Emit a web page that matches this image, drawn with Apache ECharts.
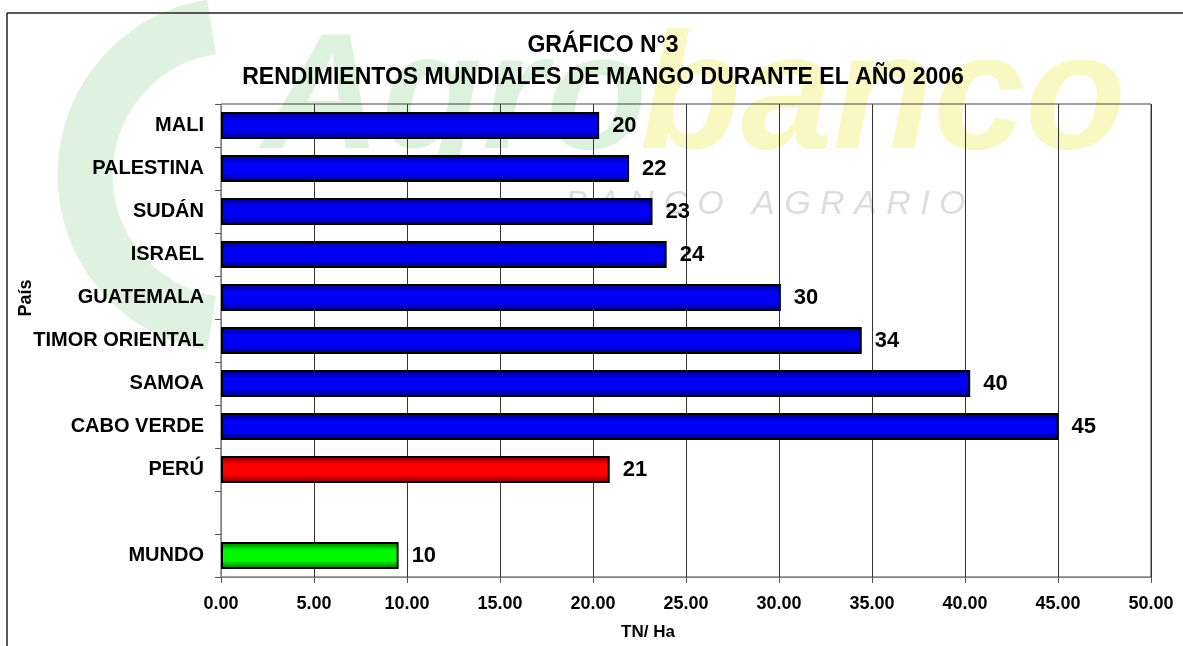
<!DOCTYPE html>
<html><head><meta charset="utf-8">
<script src="https://cdn.jsdelivr.net/npm/echarts@6/dist/echarts.min.js"></script>
<style>html,body{margin:0;padding:0;background:#fff}#c{width:1183px;height:646px}</style>
</head><body><div id="c"></div>
<script>
// ---- data ----
const categories = ['MALI','PALESTINA','SUDÁN','ISRAEL','GUATEMALA','TIMOR ORIENTAL','SAMOA','CABO VERDE','PERÚ','','MUNDO'];
const values = [20.33, 21.94, 23.2, 23.96, 30.1, 34.45, 40.28, 45.03, 20.9, null, 9.55];
const groups = ['pais','pais','pais','pais','pais','pais','pais','pais','peru',null,'mundo'];
const xMin = 0, xMax = 50, xStep = 5;
const titleLines = ['GRÁFICO N°3', 'RENDIMIENTOS MUNDIALES DE MANGO DURANTE EL AÑO 2006'];
const xName = 'TN/ Ha';
const yName = 'País';

// ---- styles ----
const FONT = '"Liberation Sans", Arial, sans-serif';
function grad(dark, mid) {
  return new echarts.graphic.LinearGradient(0, 0, 0, 1, [
    {offset: 0, color: dark}, {offset: 0.3, color: mid}, {offset: 0.5, color: mid},
    {offset: 0.7, color: mid}, {offset: 1, color: dark}
  ]);
}
const groupColor = {
  pais: grad('#000070', '#0000f8'),
  peru: grad('#700000', '#ff0000'),
  mundo: grad('#006800', '#00f800')
};

const chart = echarts.init(document.getElementById('c'), null, {renderer: 'canvas'});
chart.setOption({
  backgroundColor: '#fff',
  animation: false,
  grid: {left: 221, right: 32, top: 104, bottom: 69, show: true, borderColor: '#444', borderWidth: 1, backgroundColor: 'transparent'},
  xAxis: {
    type: 'value', min: xMin, max: xMax, interval: xStep,
    axisLine: {show: true, lineStyle: {color: '#808080', width: 1}},
    axisTick: {show: true, length: 6, lineStyle: {color: '#555'}},
    splitLine: {show: true, lineStyle: {color: '#333', width: 1}},
    axisLabel: {margin: 18, color: '#000', fontSize: 18, fontWeight: 'bold', fontFamily: FONT,
      formatter: v => v.toFixed(2)}
  },
  yAxis: {
    type: 'category', data: categories, inverse: true,
    axisLine: {show: true, lineStyle: {color: '#808080', width: 1}},
    axisTick: {show: true, length: 6, lineStyle: {color: '#555'}},
    splitLine: {show: false},
    axisLabel: {margin: 17, color: '#000', fontSize: 20, fontWeight: 'bold', fontFamily: FONT}
  },
  series: [{
    type: 'bar',
    barWidth: 27,
    data: values.map((v, i) => ({
      value: v,
      itemStyle: groups[i] ? {color: groupColor[groups[i]], borderColor: '#000', borderWidth: 2} : {}
    })),
    label: {
      show: true, position: 'right', distance: 13,
      color: '#000', fontSize: 22, fontWeight: 'bold', fontFamily: FONT,
      formatter: p => (p.value == null ? '' : Math.round(p.value).toString())
    }
  }],
  graphic: [
    // faint watermark logo (background)
    {type: 'arc', z: -10, silent: true, shape: {cx: 235, cy: 175, r: 150, startAngle: Math.PI * 0.55, endAngle: Math.PI * 1.45},
      style: {stroke: 'rgba(120,200,120,0.24)', lineWidth: 55, fill: null}},
    {type: 'text', z: -10, silent: true, x: 262, y: 185,
      style: {text: 'Agro', font: 'italic bold 165px "Liberation Sans", Arial, sans-serif', fill: 'rgba(120,205,120,0.26)', textVerticalAlign: 'bottom'}},
    {type: 'text', z: -10, silent: true, x: 640, y: 185,
      style: {text: 'banco', font: 'italic bold 165px "Liberation Sans", Arial, sans-serif', fill: 'rgba(235,235,80,0.34)', textVerticalAlign: 'bottom'}},
    {type: 'text', z: -10, silent: true, x: 565, y: 205,
      style: {text: 'B A N C O   A G R A R I O', font: 'italic 34px "Liberation Sans", Arial, sans-serif', fill: 'rgba(150,150,150,0.32)', textVerticalAlign: 'middle'}},
    // outer frame
    {type: 'line', z: 10, silent: true, shape: {x1: 7, y1: 13, x2: 1183, y2: 13}, style: {stroke: '#222', lineWidth: 1.5}},
    {type: 'line', z: 10, silent: true, shape: {x1: 7, y1: 13, x2: 7, y2: 646}, style: {stroke: '#222', lineWidth: 1.5}},
    // titles
    {type: 'text', z: 10, x: 603, y: 46,
      style: {text: titleLines[0], font: 'bold 23px "Liberation Sans", Arial, sans-serif', fill: '#000', textAlign: 'center', textVerticalAlign: 'middle'}},
    {type: 'text', z: 10, x: 603, y: 78,
      style: {text: titleLines[1], font: 'bold 23px "Liberation Sans", Arial, sans-serif', fill: '#000', textAlign: 'center', textVerticalAlign: 'middle'}},
    // axis names
    {type: 'text', z: 10, x: 648, y: 632,
      style: {text: xName, font: 'bold 17px "Liberation Sans", Arial, sans-serif', fill: '#000', textAlign: 'center', textVerticalAlign: 'middle'}},
    {type: 'text', z: 10, x: 26, y: 298, rotation: Math.PI / 2,
      style: {text: yName, font: 'bold 18px "Liberation Sans", Arial, sans-serif', fill: '#000', textAlign: 'center', textVerticalAlign: 'middle'}}
  ]
});
</script>
</body></html>
